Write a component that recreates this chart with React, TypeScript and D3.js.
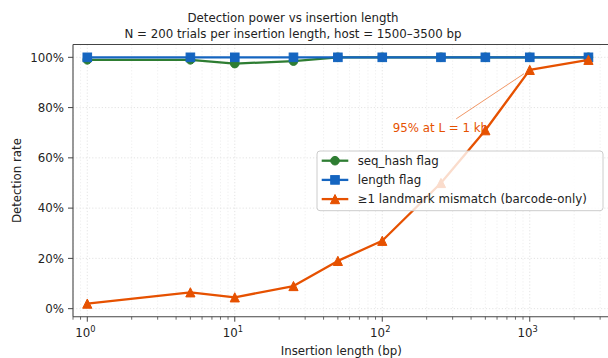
import React from "react";
import * as d3 from "d3";

// insertion lengths (bp) and detection rates
const lengths = [1, 5, 10, 25, 50, 100, 250, 500, 1000, 2500];
const seqHash = [0.99, 0.99, 0.975, 0.985, 1.0, 1.0, 1.0, 1.0, 1.0, 1.0];
const lengthFlag = [1.0, 1.0, 1.0, 1.0, 1.0, 1.0, 1.0, 1.0, 1.0, 1.0];
const landmark = [0.02, 0.065, 0.045, 0.09, 0.19, 0.27, 0.5, 0.71, 0.95, 0.99];

const seriesNames = ["seq_hash flag", "length flag", "≥1 landmark mismatch (barcode-only)"];
const seriesColors = ["#2e7d32", "#1565c0", "#e65100"];
const seriesMarkers = ["circle", "square", "triangle"];

const yTicks = [0, 0.2, 0.4, 0.6, 0.8, 1.0];
const xMajor = [1, 10, 100, 1000];

// annotation: text anchor in data coords, arrow target
const annotText = "95% at L = 1 kb";
const annotAt = { x: 1000, y: 0.95 };
const annotTextPos = { x: 118, y: 0.72 };

const W = 608,
  H = 358;
const margin = { top: 44.5, right: -2, bottom: 41.3, left: 73 };
const FONT = "DejaVu Sans, sans-serif";
const FS = 11.8;

const x = d3
  .scaleLog()
  .domain([0.8, 3500])
  .range([margin.left, W - margin.right]);
const y = d3
  .scaleLinear()
  .domain([-0.032, 1.051])
  .range([H - margin.bottom, margin.top]);

const minorTicks: number[] = [];
[0.1, 1, 10, 100, 1000].forEach(d => {
  for (let k = 2; k <= 9; k++) {
    const v = d * k;
    if (v >= 0.8 && v <= 3500) minorTicks.push(v);
  }
});

const Marker = ({ kind, cx, cy, color }: { kind: string; cx: number; cy: number; color: string }) => {
  if (kind === "circle") return <circle cx={cx} cy={cy} r={4.3} fill={color} stroke={color} strokeWidth={1} />;
  if (kind === "square")
    return <rect x={cx - 4.3} y={cy - 4.3} width={8.6} height={8.6} fill={color} stroke={color} strokeWidth={1} />;
  const h = 4.6;
  return (
    <path
      d={`M${cx},${cy - h}L${cx - h},${cy + h}L${cx + h},${cy + h}Z`}
      fill={color}
      stroke={color}
      strokeWidth={1}
      strokeLinejoin="miter"
    />
  );
};

const App = () => {
  const allSeries = [seqHash, lengthFlag, landmark];
  const line = d3
    .line<number>()
    .x((_, i) => x(lengths[i]))
    .y(d => y(d));

  const left = margin.left,
    right = W - margin.right,
    top = margin.top,
    bottom = H - margin.bottom;

  // annotation geometry
  const tx = x(annotTextPos.x);
  const ty = y(annotTextPos.y);
  const px = x(annotAt.x);
  const py = y(annotAt.y);
  const tcx = tx + 50;
  const dx = px - tcx,
    dy = py - ty;
  const len = Math.hypot(dx, dy);
  const sx = tcx + (dx / len) * 16;
  const sy = ty + (dy / len) * 16;
  const ex = px - (dx / len) * 7;
  const ey = py - (dy / len) * 7;

  const legX = 317,
    legY = 151,
    legW = 286,
    legH = 59.7;

  return (
    <div style={{ position: "absolute", left: 0, top: 0 }}>
      <svg width={W} height={H} style={{ display: "block", background: "#fff" }} fontFamily={FONT}>
        <defs>
          <clipPath id="plot">
            <rect x={left} y={top} width={right - left} height={bottom - top} />
          </clipPath>
        </defs>

        {/* grid */}
        <g clipPath="url(#plot)">
          {minorTicks.map(t => (
            <line key={"mg" + t} x1={x(t)} x2={x(t)} y1={top} y2={bottom} stroke="#ebebeb" strokeWidth={0.8} strokeDasharray="1.2,2" />
          ))}
          {xMajor.map(t => (
            <line key={"xg" + t} x1={x(t)} x2={x(t)} y1={top} y2={bottom} stroke="#dcdcdc" strokeWidth={0.8} strokeDasharray="1.2,2" />
          ))}
          {yTicks.map(t => (
            <line key={"yg" + t} x1={left} x2={right} y1={y(t)} y2={y(t)} stroke="#dcdcdc" strokeWidth={0.8} strokeDasharray="1.2,2" />
          ))}
        </g>

        {/* annotation text */}
        <text x={tx} y={ty + 4.3} fontSize={FS} fill="#e65100">
          {annotText}
        </text>

        {/* series */}
        {allSeries.map((vals, si) => (
          <g key={si}>
            <path d={line(vals) || ""} fill="none" stroke={seriesColors[si]} strokeWidth={2.3} strokeLinejoin="round" />
            {vals.map((v, i) => (
              <Marker key={i} kind={seriesMarkers[si]} cx={x(lengths[i])} cy={y(v)} color={seriesColors[si]} />
            ))}
          </g>
        ))}

        {/* annotation arrow */}
        <line x1={sx} y1={sy} x2={ex} y2={ey} stroke="#e65100" strokeOpacity={0.6} strokeWidth={1} />

        {/* spines */}
        <line x1={left} x2={left} y1={top} y2={bottom} stroke="#444" strokeWidth={1.1} />
        <line x1={left} x2={right} y1={bottom} y2={bottom} stroke="#444" strokeWidth={1.1} />
        <line x1={left} x2={right} y1={top} y2={top} stroke="#444" strokeWidth={1.1} />
        <line x1={right} x2={right} y1={top} y2={bottom} stroke="#444" strokeWidth={1.1} />

        {/* y axis */}
        {yTicks.map(t => (
          <g key={"yt" + t}>
            <line x1={left - 5} x2={left} y1={y(t)} y2={y(t)} stroke="#444" strokeWidth={1} />
            <text x={left - 9} y={y(t) + 4.2} fontSize={FS} textAnchor="end" fill="#222">
              {d3.format(".0%")(t)}
            </text>
          </g>
        ))}
        <text
          transform={`translate(${17},${(top + bottom) / 2}) rotate(-90)`}
          textAnchor="middle"
          dominantBaseline="central"
          fontSize={FS}
          fill="#222"
        >
          Detection rate
        </text>

        {/* x axis */}
        {minorTicks.map(t => (
          <line key={"mt" + t} x1={x(t)} x2={x(t)} y1={bottom} y2={bottom + 3} stroke="#444" strokeWidth={0.8} />
        ))}
        {xMajor.map(t => (
          <g key={"xt" + t}>
            <line x1={x(t)} x2={x(t)} y1={bottom} y2={bottom + 5} stroke="#444" strokeWidth={1} />
            <text x={x(t) - 2} y={bottom + 20.5} fontSize={FS} textAnchor="middle" fill="#222">
              10
              <tspan fontSize={8.3} dy={-5}>
                {Math.round(Math.log10(t))}
              </tspan>
            </text>
          </g>
        ))}
        <text x={(left + 609.5) / 2} y={354.5} fontSize={FS} textAnchor="middle" fill="#222">
          Insertion length (bp)
        </text>

        {/* title */}
        <text x={293} y={21.5} fontSize={FS} textAnchor="middle" fill="#222">
          Detection power vs insertion length
        </text>
        <text x={293} y={37.5} fontSize={FS} textAnchor="middle" fill="#222">
          N = 200 trials per insertion length, host = 1500–3500 bp
        </text>

        {/* legend */}
        <g>
          <rect x={legX} y={legY} width={legW} height={legH} rx={3} fill="#fff" fillOpacity={0.8} stroke="#cccccc" strokeWidth={1} />
          {seriesNames.map((name, i) => {
            const ly = legY + 9.7 + i * 19.2;
            return (
              <g key={name}>
                <line x1={legX + 4.7} x2={legX + 31.3} y1={ly} y2={ly} stroke={seriesColors[i]} strokeWidth={2.3} />
                <Marker kind={seriesMarkers[i]} cx={legX + 18} cy={ly} color={seriesColors[i]} />
                <text x={legX + 40.7} y={ly + 4.3} fontSize={FS} fill="#222">
                  {name}
                </text>
              </g>
            );
          })}
        </g>
      </svg>
    </div>
  );
};

export default App;
